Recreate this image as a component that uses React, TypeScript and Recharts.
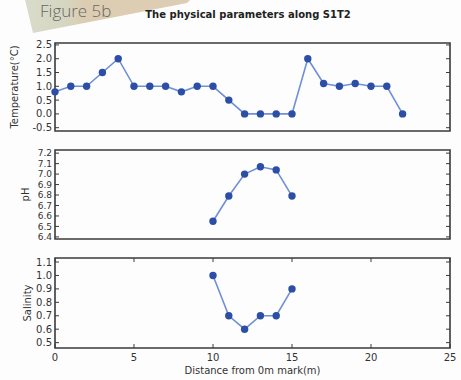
import { LineChart, Line, XAxis, YAxis, ReferenceArea } from "recharts"

const distance = [0, 1, 2, 3, 4, 5, 6, 7, 8, 9, 10, 11, 12, 13, 14, 15, 16, 17, 18, 19, 20, 21, 22]
const temperature = [0.8, 1.0, 1.0, 1.5, 2.0, 1.0, 1.0, 1.0, 0.8, 1.0, 1.0, 0.5, 0.0, 0.0, 0.0, 0.0, 2.0, 1.1, 1.0, 1.1, 1.0, 1.0, 0.0]
const sampleDistance = [10, 11, 12, 13, 14, 15]
const ph = [6.55, 6.79, 7.0, 7.07, 7.04, 6.79]
const salinity = [1.0, 0.7, 0.6, 0.7, 0.7, 0.9]

const xTicks = [0, 5, 10, 15, 20, 25]
const tempTicks = [-0.5, 0.0, 0.5, 1.0, 1.5, 2.0, 2.5]
const phTicks = [6.4, 6.5, 6.6, 6.7, 6.8, 6.9, 7.0, 7.1, 7.2]
const salinityTicks = [0.5, 0.6, 0.7, 0.8, 0.9, 1.0, 1.1]

const title = "The physical parameters along S1T2"
const xLabel = "Distance from 0m mark(m)"

const W = 461
const H = 380
const PLOT_LEFT = 55
const PLOT_RIGHT = 450
const FONT = "DejaVu Sans, sans-serif"
const FRAME = "#3a3a3a"
const TEXT = "#333"

type PanelProps = {
  data: { x: number; v: number }[]
  domain: [number, number]
  ticks: number[]
  yLabel: string
  labelX: number
  plotTop: number
  plotBottom: number
  tickFont: number
  showX?: boolean
}

function Panel({ data, domain, ticks, yLabel, labelX, plotTop, plotBottom, tickFont, showX }: PanelProps) {
  const xHeight = showX ? 30 : 0

  const yTick = (props: any) => {
    const { y, payload } = props
    return (
      <g>
        <line x1={PLOT_LEFT} x2={PLOT_LEFT + 4} y1={y} y2={y} stroke={FRAME} strokeWidth={1} />
        <line x1={PLOT_RIGHT} x2={PLOT_RIGHT - 4} y1={y} y2={y} stroke={FRAME} strokeWidth={1} />
        <text x={PLOT_LEFT - 3} y={y} dy="0.35em" textAnchor="end" fill={TEXT} fontSize={tickFont} fontFamily={FONT}>
          {Number(payload.value).toFixed(1)}
        </text>
      </g>
    )
  }

  const xTick = (props: any) => {
    const { x, payload } = props
    return (
      <g>
        <line x1={x} x2={x} y1={plotBottom} y2={plotBottom - 4} stroke={FRAME} strokeWidth={1} />
        <line x1={x} x2={x} y1={plotTop} y2={plotTop + 4} stroke={FRAME} strokeWidth={1} />
        {showX && (
          <text x={x} y={plotBottom + 13} textAnchor="middle" fill={TEXT} fontSize={10} fontFamily={FONT}>
            {payload.value}
          </text>
        )}
      </g>
    )
  }

  return (
    <div style={{ position: "absolute", left: 0, top: 0 }}>
      <LineChart
        width={W}
        height={H}
        data={data}
        margin={{ top: plotTop, bottom: H - plotBottom - xHeight, left: 0, right: W - PLOT_RIGHT }}
      >
        <XAxis
          dataKey="x"
          type="number"
          domain={[0, 25]}
          ticks={xTicks}
          interval={0}
          height={xHeight}
          axisLine={false}
          tickLine={false}
          tickSize={0}
          tickMargin={0}
          tick={xTick}
          label={showX ? { value: xLabel, position: "insideBottom", offset: 4, fill: TEXT, fontSize: 10, fontFamily: FONT } : undefined}
        />
        <YAxis
          type="number"
          domain={domain}
          ticks={ticks}
          width={PLOT_LEFT}
          allowDataOverflow
          axisLine={false}
          tickLine={false}
          tickSize={0}
          tickMargin={0}
          interval={0}
          tick={yTick}
          label={{ value: yLabel, angle: -90, position: "insideLeft", offset: labelX, fill: TEXT, fontSize: 10, fontFamily: FONT, style: { textAnchor: "middle" } }}
        />
        <ReferenceArea
          x1={0}
          x2={25}
          y1={domain[0]}
          y2={domain[1]}
          fill="none"
          fillOpacity={0}
          stroke={FRAME}
          strokeWidth={1.6}
          strokeOpacity={1}
        />
        <Line
          dataKey="v"
          type="linear"
          stroke="#6f8fd8"
          strokeWidth={1.6}
          dot={{ r: 3.7, fill: "#2c4ea6", stroke: "#2c4ea6", strokeWidth: 0 }}
          isAnimationActive={false}
        />
      </LineChart>
    </div>
  )
}

export default function App() {
  const tempData = distance.map((x, i) => ({ x, v: temperature[i] }))
  const phData = sampleDistance.map((x, i) => ({ x, v: ph[i] }))
  const salData = sampleDistance.map((x, i) => ({ x, v: salinity[i] }))

  return (
    <div style={{ position: "absolute", left: 0, top: 0, width: W, height: H, background: "#fdfdfd", overflow: "hidden" }}>
      <svg width={W} height={H} style={{ position: "absolute", left: 0, top: 0 }}>
        <defs>
          <linearGradient id="note" x1="0" x2="1" y1="0" y2="0">
            <stop offset="0" stopColor="#d9dccb" />
            <stop offset="0.25" stopColor="#d6d6c0" />
            <stop offset="0.35" stopColor="#dccdb2" />
            <stop offset="1" stopColor="#ddcdb4" />
          </linearGradient>
        </defs>
        <polygon points="25,0 190,0 187,3 33,33" fill="url(#note)" />
        <text x={40} y={17} fontFamily="Open Sans, sans-serif" fontWeight={300} fontSize={17} fill="#666">
          Figure 5b
        </text>
        <text x={248} y={18} textAnchor="middle" fontFamily={FONT} fontWeight="bold" fontSize={10} fill="#222">
          {title}
        </text>
      </svg>
      <Panel data={tempData} domain={[-0.62, 2.57]} ticks={tempTicks} yLabel="Temperature(°C)" labelX={14} plotTop={43} plotBottom={131} tickFont={10} />
      <Panel data={phData} domain={[6.38, 7.23]} ticks={phTicks} yLabel="pH" labelX={25} plotTop={150} plotBottom={239} tickFont={9} />
      <Panel data={salData} domain={[0.46, 1.13]} ticks={salinityTicks} yLabel="Salinity" labelX={27} plotTop={258} plotBottom={348} tickFont={10} showX />
    </div>
  )
}
